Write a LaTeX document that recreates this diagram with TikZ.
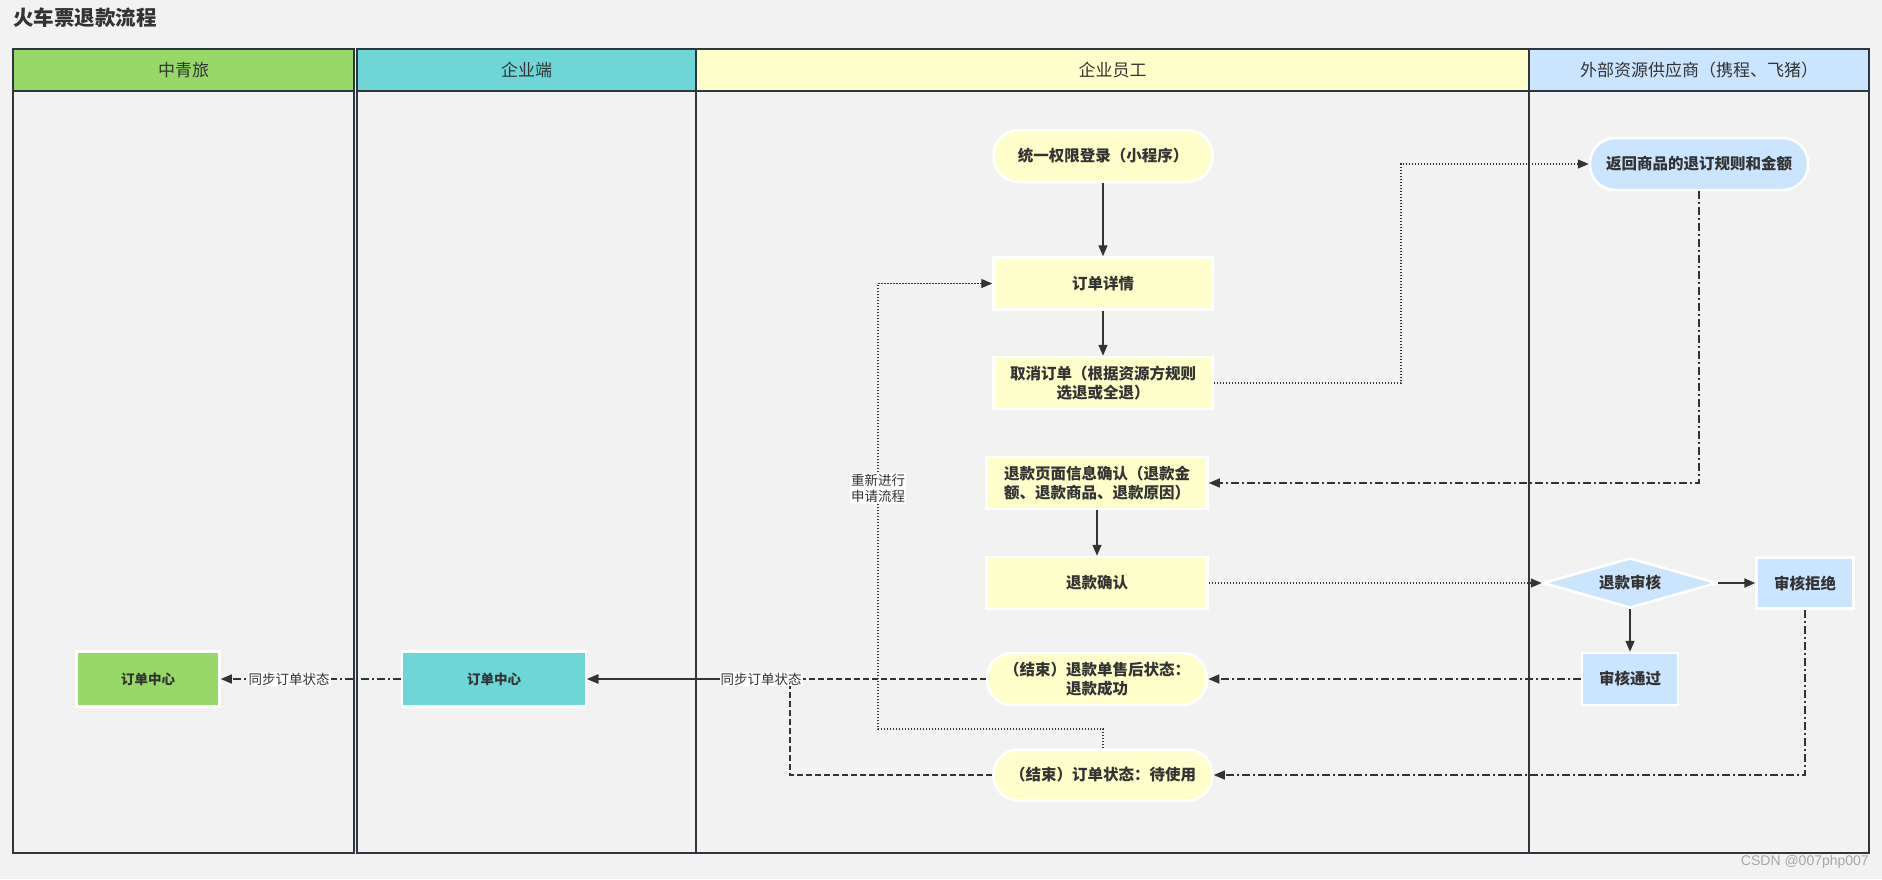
\documentclass[tikz,border=0pt]{standalone}
\usepackage{fontspec}
\setmainfont{Noto Sans CJK SC}
\newfontfamily\marquefont{Liberation Sans}
\usepackage{xcolor}
\definecolor{fondgris}{HTML}{F2F2F2}
\definecolor{trait}{HTML}{333333}
\definecolor{cadre}{HTML}{2F3640}
\definecolor{jaunepale}{HTML}{FFFFCC}
\definecolor{bleupale}{HTML}{CCE5FF}
\definecolor{vertlane}{HTML}{97D869}
\definecolor{cyanlane}{HTML}{6FD6D7}
\usepackage{tikz}
\usetikzlibrary{positioning,calc,arrows.meta,shapes.geometric}

\tikzset{
  etape/.style={draw=white, line width=2.5pt, fill=jaunepale, text=trait,
    font=\fontsize{15.5}{19}\selectfont\bfseries, inner sep=0pt,
    minimum width=219pt, minimum height=52pt, align=center},
  capsule/.style={etape, rounded corners=25pt},
  fournisseur/.style={etape, fill=bleupale},
  fleche/.style={draw=trait, line width=1.4pt, -{Triangle[length=11pt,width=9pt]}},
  pointille/.style={fleche, line width=1.2pt, dash pattern=on 1.5pt off 1.5pt},
  mixte/.style={fleche, dash pattern=on 8pt off 3pt on 2pt off 3pt},
  tirets/.style={fleche, dash pattern=on 6pt off 3pt},
  etiquette/.style={fill=white, text=trait, inner sep=1pt,
    font=\fontsize{13.5}{16}\selectfont\mdseries, align=center}
}

\begin{document}
\begin{tikzpicture}[x=1pt, y=-1pt]
  % Fond gris clair et cadre de la page
  \fill[fondgris] (0,0) rectangle (1882,879);
  \useasboundingbox (0,0) rectangle (1882,879);
  \node[anchor=west, text=trait, inner sep=0pt,
        font=\fontsize{20.5}{24}\selectfont\bfseries] (titre) at (13,18)
    {火车票退款流程};

  % Couloirs : bandeau colore en tete, corps gris
  \foreach \g/\d/\coul/\nom [count=\i] in
      {13/354/vertlane/中青旅, 357/696/cyanlane/企业端,
       696/1529/jaunepale/企业员工, 1529/1869/bleupale/外部资源供应商（携程、飞猪）}{
    \fill[\coul] (\g,49) rectangle (\d,91);
    \draw[cadre, line width=1.5pt] (\g,49) rectangle (\d,853);
    \draw[cadre, line width=1.5pt] (\g,91) -- (\d,91);
    \node[text=trait, font=\fontsize{17}{20}\selectfont] (entete\i)
      at ({(\g+\d)/2},70) {\nom};
  }

  % Colonne du salarie
  \node[capsule] (connexion) at (1103,156) {统一权限登录（小程序）};
  \node[etape, below=73pt of connexion] (detail) {订单详情};
  \node[etape, below=45pt of detail] (annulation)
    {取消订单（根据资源方规则\\选退或全退）};
  \node[etape, minimum width=221pt, align=left] (verification) at (1097,483)
    {退款页面信息确认（退款金\\额、退款商品、退款原因）};
  \node[etape, minimum width=221pt] (confirmation) at (1097,583) {退款确认};
  \node[capsule, minimum width=220pt] (succes) at (1097,679)
    {（结束）退款单售后状态：\\退款成功};
  \node[capsule, minimum height=51pt] (attente) at (1103,775)
    {（结束）订单状态：待使用};

  % Colonne du fournisseur externe
  \node[fournisseur, rounded corners=25pt, minimum width=218pt] (regles)
    at (1699,164) {返回商品的退订规则和金额};
  \node[fournisseur, diamond, aspect=3.5, minimum width=174pt,
        minimum height=50pt] (audit) at (1630,583) {退款审核};
  \node[fournisseur, minimum width=97pt, minimum height=51pt] (refus)
    at (1805,583) {审核拒绝};
  \node[fournisseur, minimum width=96pt] (accord) at (1630,679) {审核通过};

  % Centres de commandes
  \node[etape, fill=cyanlane, minimum width=184pt, minimum height=55pt,
        font=\fontsize{13.5}{16}\selectfont\bfseries] (centreqy) at (494,679)
    {订单中心};
  \node[etape, fill=vertlane, minimum width=143pt, minimum height=55pt,
        font=\fontsize{13.5}{16}\selectfont\bfseries] (centrezq) at (148,679)
    {订单中心};

  % Liaisons
  \coordinate (coude) at (1401,0);
  \coordinate (raccord) at (790,0);
  \coordinate (relance) at (878,729);
  \draw[fleche] (connexion) -- (detail);
  \draw[fleche] (detail) -- (annulation);
  \draw[pointille] (annulation.east) -- (annulation.east -| coude) |- (regles.west);
  \draw[mixte] (regles.south) |- (verification.east);
  \draw[fleche] (verification) -- (confirmation);
  \draw[pointille] (confirmation.east) -- (audit.west);
  \draw[fleche, line width=2.2pt] (audit.east) -- (refus.west);
  \draw[fleche] (audit.south) -- (accord.north);
  \draw[mixte] (accord.west) -- (succes.east);
  \draw[mixte] (refus.south) |- (attente.east);
  \draw[pointille] (attente.north) |- (relance)
    |- node[etiquette, pos=0.27] {重新进行\\申请流程} (detail.west);
  \draw[tirets] (attente.west) -- (attente.west -| raccord) |- (centreqy.east);
  \draw[tirets] (succes.west) -- node[etiquette, pos=0.564] {同步订单状态} (centreqy.east);
  \draw[mixte] (centreqy.west) -- node[etiquette, pos=0.62] {同步订单状态} (centrezq.east);

  % Filigrane
  \node[anchor=east, text=gray!70, inner sep=0pt,
        font=\marquefont\fontsize{14}{16}\selectfont] (filigrane) at (1869,862)
    {CSDN @007php007};
\end{tikzpicture}
\end{document}
